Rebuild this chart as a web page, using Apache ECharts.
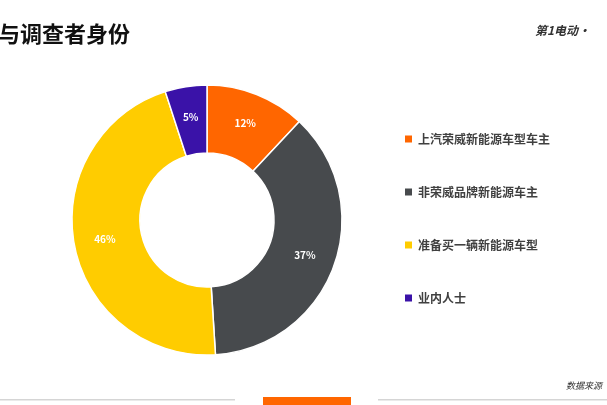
<!DOCTYPE html>
<html>
<head>
<meta charset="utf-8">
<script src="https://cdn.jsdelivr.net/npm/echarts@6/dist/echarts.min.js"></script>
<style>html,body{margin:0;padding:0;background:#fff}#c{width:607px;height:405px}</style>
</head>
<body>
<div id="c"></div>
<script>
// 调查者身份
const categories = ['上汽荣威新能源车型车主', '非荣威品牌新能源车主', '准备买一辆新能源车型', '业内人士'];
const values = [12, 37, 46, 5];
const colors = ['#FF6600', '#474A4D', '#FFCC00', '#3A12A8'];

const chart = echarts.init(document.getElementById('c'));
chart.setOption({
  animation: false,
  color: colors,
  legend: {
    orient: 'vertical',
    left: 398,
    top: 128,
    itemGap: 41,
    itemWidth: 9,
    itemHeight: 9,
    icon: 'rect',
    textStyle: { fontSize: 12, fontWeight: 'bold', color: '#404040', fontFamily: 'Noto Sans CJK SC' },
    data: categories,
  },
  graphic: [
    { type: 'text', left: -2, top: 23, style: { text: '与调查者身份', fontSize: 22, fontWeight: 'bold', fill: '#111', fontFamily: 'Noto Sans CJK SC' } },
    { type: 'text', left: 535, top: 24, style: { text: '第1电动·', fontSize: 12, fontWeight: 'bold', fontStyle: 'italic', fill: '#333', fontFamily: 'Noto Sans CJK SC' } },
    { type: 'rect', shape: { x: 0, y: 399, width: 235, height: 1.5 }, style: { fill: '#d5d5d5' } },
    { type: 'rect', shape: { x: 378, y: 399, width: 229, height: 1.5 }, style: { fill: '#d5d5d5' } },
    { type: 'rect', shape: { x: 263, y: 397, width: 88, height: 8 }, style: { fill: '#FF6600' } },
    { type: 'text', left: 566, top: 381, style: { text: '数据来源', fontSize: 9, fontStyle: 'italic', fill: '#333', fontFamily: 'Noto Sans CJK SC' } },
  ],
  series: [{
    type: 'pie',
    center: [207, 220],
    radius: [67, 135],
    startAngle: 90,
    itemStyle: { borderColor: '#fff', borderWidth: 1.5 },
    label: {
      position: 'inside',
      formatter: '{c}%',
      fontSize: 10,
      fontWeight: 'bold',
      color: '#fff',
      fontFamily: 'Noto Sans CJK SC',
    },
    labelLine: { show: false },
    data: categories.map((name, i) => ({ name, value: values[i] })),
  }],
});
</script>
</body>
</html>
